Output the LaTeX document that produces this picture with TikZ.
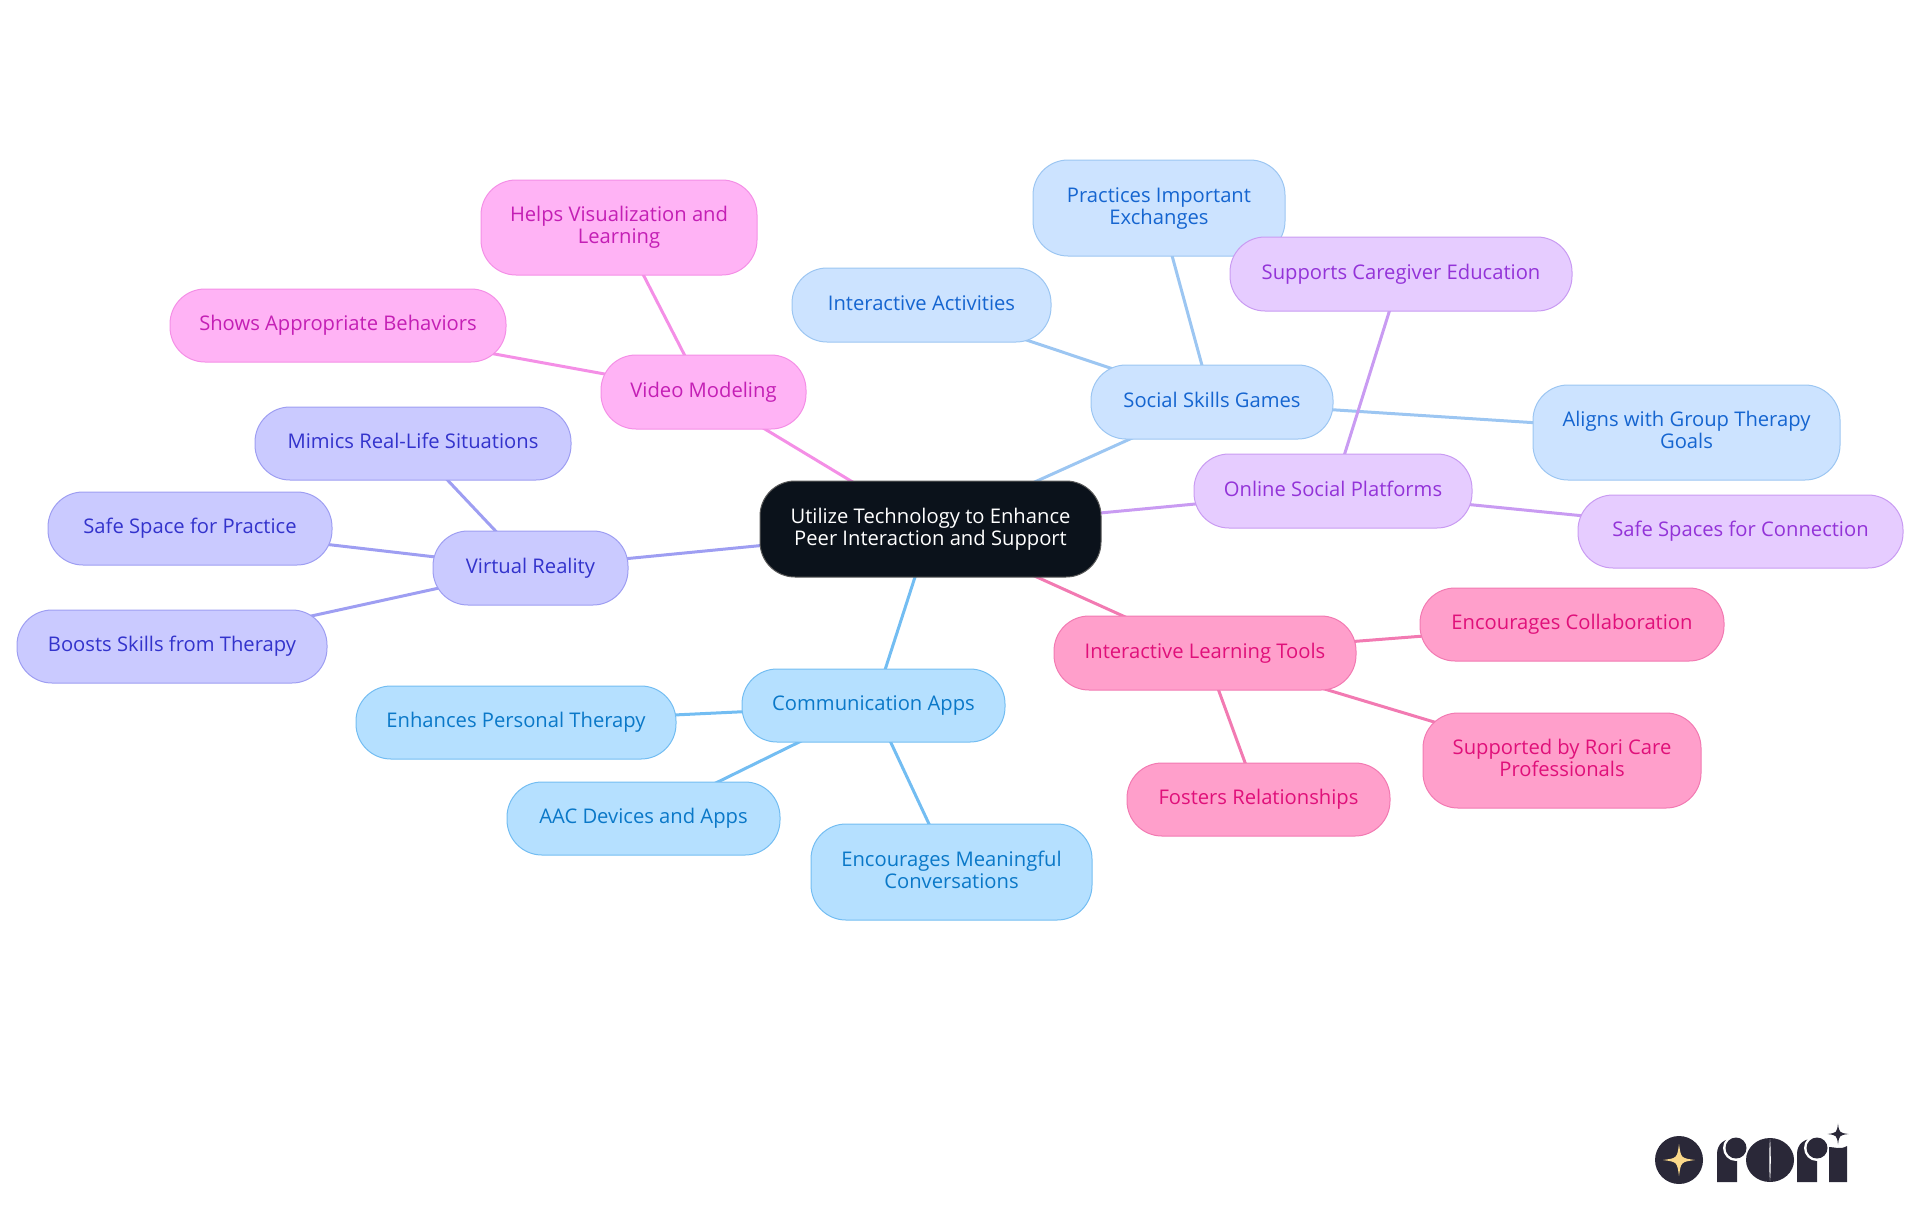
\documentclass[tikz,border=0pt]{standalone}
\usepackage{fontspec}
\setmainfont{Open Sans}
\usetikzlibrary{backgrounds}
\definecolor{pkF}{HTML}{FFB3F5}\definecolor{pkD}{HTML}{F48FE6}\definecolor{pkT}{HTML}{C41FB5}
\definecolor{puF}{HTML}{E6CCFF}\definecolor{puD}{HTML}{C99BF2}\definecolor{puT}{HTML}{9333D8}
\definecolor{lbF}{HTML}{CCE3FF}\definecolor{lbD}{HTML}{9CC6F2}\definecolor{lbT}{HTML}{1565D0}
\definecolor{skF}{HTML}{B5E0FF}\definecolor{skD}{HTML}{73BDF2}\definecolor{skT}{HTML}{0A78C8}
\definecolor{peF}{HTML}{CACAFF}\definecolor{peD}{HTML}{9E9EF2}\definecolor{peT}{HTML}{3333CC}
\definecolor{hpF}{HTML}{FF9FCB}\definecolor{hpD}{HTML}{F27AB2}\definecolor{hpT}{HTML}{E0107A}
\definecolor{rootF}{HTML}{0B121B}\definecolor{logoC}{HTML}{2A2838}\definecolor{gold}{HTML}{FBD98A}
\newcommand{\bx}[7]{% name, style, x0, x1, y0, y1, text
  \pgfmathsetmacro{\bxw}{#4-#3}\pgfmathsetmacro{\bxh}{#6-#5}
  \pgfmathsetmacro{\bxcx}{(#3+#4)/2}\pgfmathsetmacro{\bxcy}{(#5+#6)/2}
  \node[#2,minimum width=\bxw*0.5pt,minimum height=\bxh*0.5pt] (#1) at (\bxcx,\bxcy) {\rule{0pt}{7.5pt}#7\rule[-2.5pt]{0pt}{0pt}};}
\newcommand{\starshape}[4]{\fill[#4] (#1,#2-#3) .. controls (#1+0.12*#3,#2-0.12*#3) .. (#1+#3,#2) .. controls (#1+0.12*#3,#2+0.12*#3) .. (#1,#2+#3) .. controls (#1-0.12*#3,#2+0.12*#3) .. (#1-#3,#2) .. controls (#1-0.12*#3,#2-0.12*#3) .. (#1,#2-#3) -- cycle;}
\tikzset{
  box/.style={rounded corners=17.5pt,line width=0.5pt,inner sep=0pt,align=center,font=\fontsize{10.1}{11}\selectfont},
  pk/.style={box,fill=pkF,draw=pkD,text=pkT},
  pu/.style={box,fill=puF,draw=puD,text=puT},
  lb/.style={box,fill=lbF,draw=lbD,text=lbT},
  sk/.style={box,fill=skF,draw=skD,text=skT},
  pe/.style={box,fill=peF,draw=peD,text=peT},
  hp/.style={box,fill=hpF,draw=hpD,text=hpT},
  rootbox/.style={box,fill=rootF,draw=gray!70!black,text=white},
  ed/.style={line width=1.5pt}
}
\begin{document}
\begin{tikzpicture}[x=0.5pt,y=-0.5pt]
\useasboundingbox (0,0) rectangle (1920,1215);
\bx{root}{rootbox}{760}{1101}{481}{577}{Utilize Technology to Enhance\\Peer Interaction and Support}
\bx{vm}{pk}{601}{806}{355}{429}{Video Modeling}
\bx{hv}{pk}{481}{757}{180}{275}{Helps Visualization and\\Learning}
\bx{sa}{pk}{170}{506}{289}{362}{Shows Appropriate Behaviors}
\bx{vr}{pe}{433}{628}{531}{605}{Virtual Reality}
\bx{mr}{pe}{255}{571}{407}{480}{Mimics Real-Life Situations}
\bx{ss}{pe}{48}{332}{492}{565}{Safe Space for Practice}
\bx{bs}{pe}{17}{327}{610}{683}{Boosts Skills from Therapy}
\bx{ca}{sk}{742}{1005}{669}{742}{Communication Apps}
\bx{ep}{sk}{356}{676}{686}{759}{Enhances Personal Therapy}
\bx{aac}{sk}{507}{780}{782}{855}{AAC Devices and Apps}
\bx{em}{sk}{811}{1092}{824}{920}{Encourages Meaningful\\Conversations}
\bx{il}{hp}{1054}{1356}{616}{690}{Interactive Learning Tools}
\bx{ec}{hp}{1420}{1724}{588}{661}{Encourages Collaboration}
\bx{sr}{hp}{1423}{1701}{713}{808}{Supported by Rori Care\\Professionals}
\bx{fr}{hp}{1127}{1390}{763}{836}{Fosters Relationships}
\bx{sg}{lb}{1091}{1333}{365}{439}{Social Skills Games}
\bx{pi}{lb}{1033}{1285}{160}{256}{Practices Important\\Exchanges}
\bx{ia}{lb}{792}{1051}{268}{342}{Interactive Activities}
\bx{ag}{lb}{1533}{1840}{385}{480}{Aligns with Group Therapy\\Goals}
\bx{os}{pu}{1194}{1472}{454}{528}{Online Social Platforms}
\bx{sc}{pu}{1230}{1572}{237}{311}{Supports Caregiver Education}
\bx{sf}{pu}{1578}{1903}{495}{568}{Safe Spaces for Connection}
\begin{scope}[on background layer]
\draw[ed,pkD] (root.center)--(vm.center) (vm.center)--(hv.center) (vm.center)--(sa.center);
\draw[ed,peD] (root.center)--(vr.center) (vr.center)--(mr.center) (vr.center)--(ss.center) (vr.center)--(bs.center);
\draw[ed,skD] (root.center)--(ca.center) (ca.center)--(ep.center) (ca.center)--(aac.center) (ca.center)--(em.center);
\draw[ed,hpD] (root.center)--(il.center) (il.center)--(ec.center) (il.center)--(sr.center) (il.center)--(fr.center);
\draw[ed,lbD] (root.center)--(sg.center) (sg.center)--(pi.center) (sg.center)--(ia.center) (sg.center)--(ag.center);
\draw[ed,puD] (root.center)--(os.center) (os.center)--(sc.center) (os.center)--(sf.center);
\end{scope}
% logo
\fill[logoC] (1679,1160) circle (24);
\starshape{1679}{1160}{16}{gold}
\fill[logoC] (1717,1182) -- (1717,1154) .. controls (1717,1144) and (1724,1138) .. (1737,1138) -- (1737,1182) -- cycle;
\fill[white] (1736,1148) circle (13);
\fill[logoC] (1736,1148) circle (10.5);
\fill[logoC] (1770,1160) ellipse (24 and 22);
\fill[white] (1770,1139) .. controls (1769,1150) and (1769,1170) .. (1770,1181) .. controls (1771,1170) and (1771,1150) .. (1770,1139) -- cycle;
\fill[logoC] (1797,1182) -- (1797,1154) .. controls (1797,1144) and (1804,1138) .. (1817,1138) -- (1817,1182) -- cycle;
\fill[white] (1817,1148) circle (13);
\fill[logoC] (1817,1148) circle (10.5);
\fill[logoC] (1829,1182) -- (1829,1147) .. controls (1835,1147) and (1840,1150) .. (1847,1146) -- (1847,1182) -- cycle;
\starshape{1838}{1134}{10.5}{logoC}
\end{tikzpicture}
\end{document}
